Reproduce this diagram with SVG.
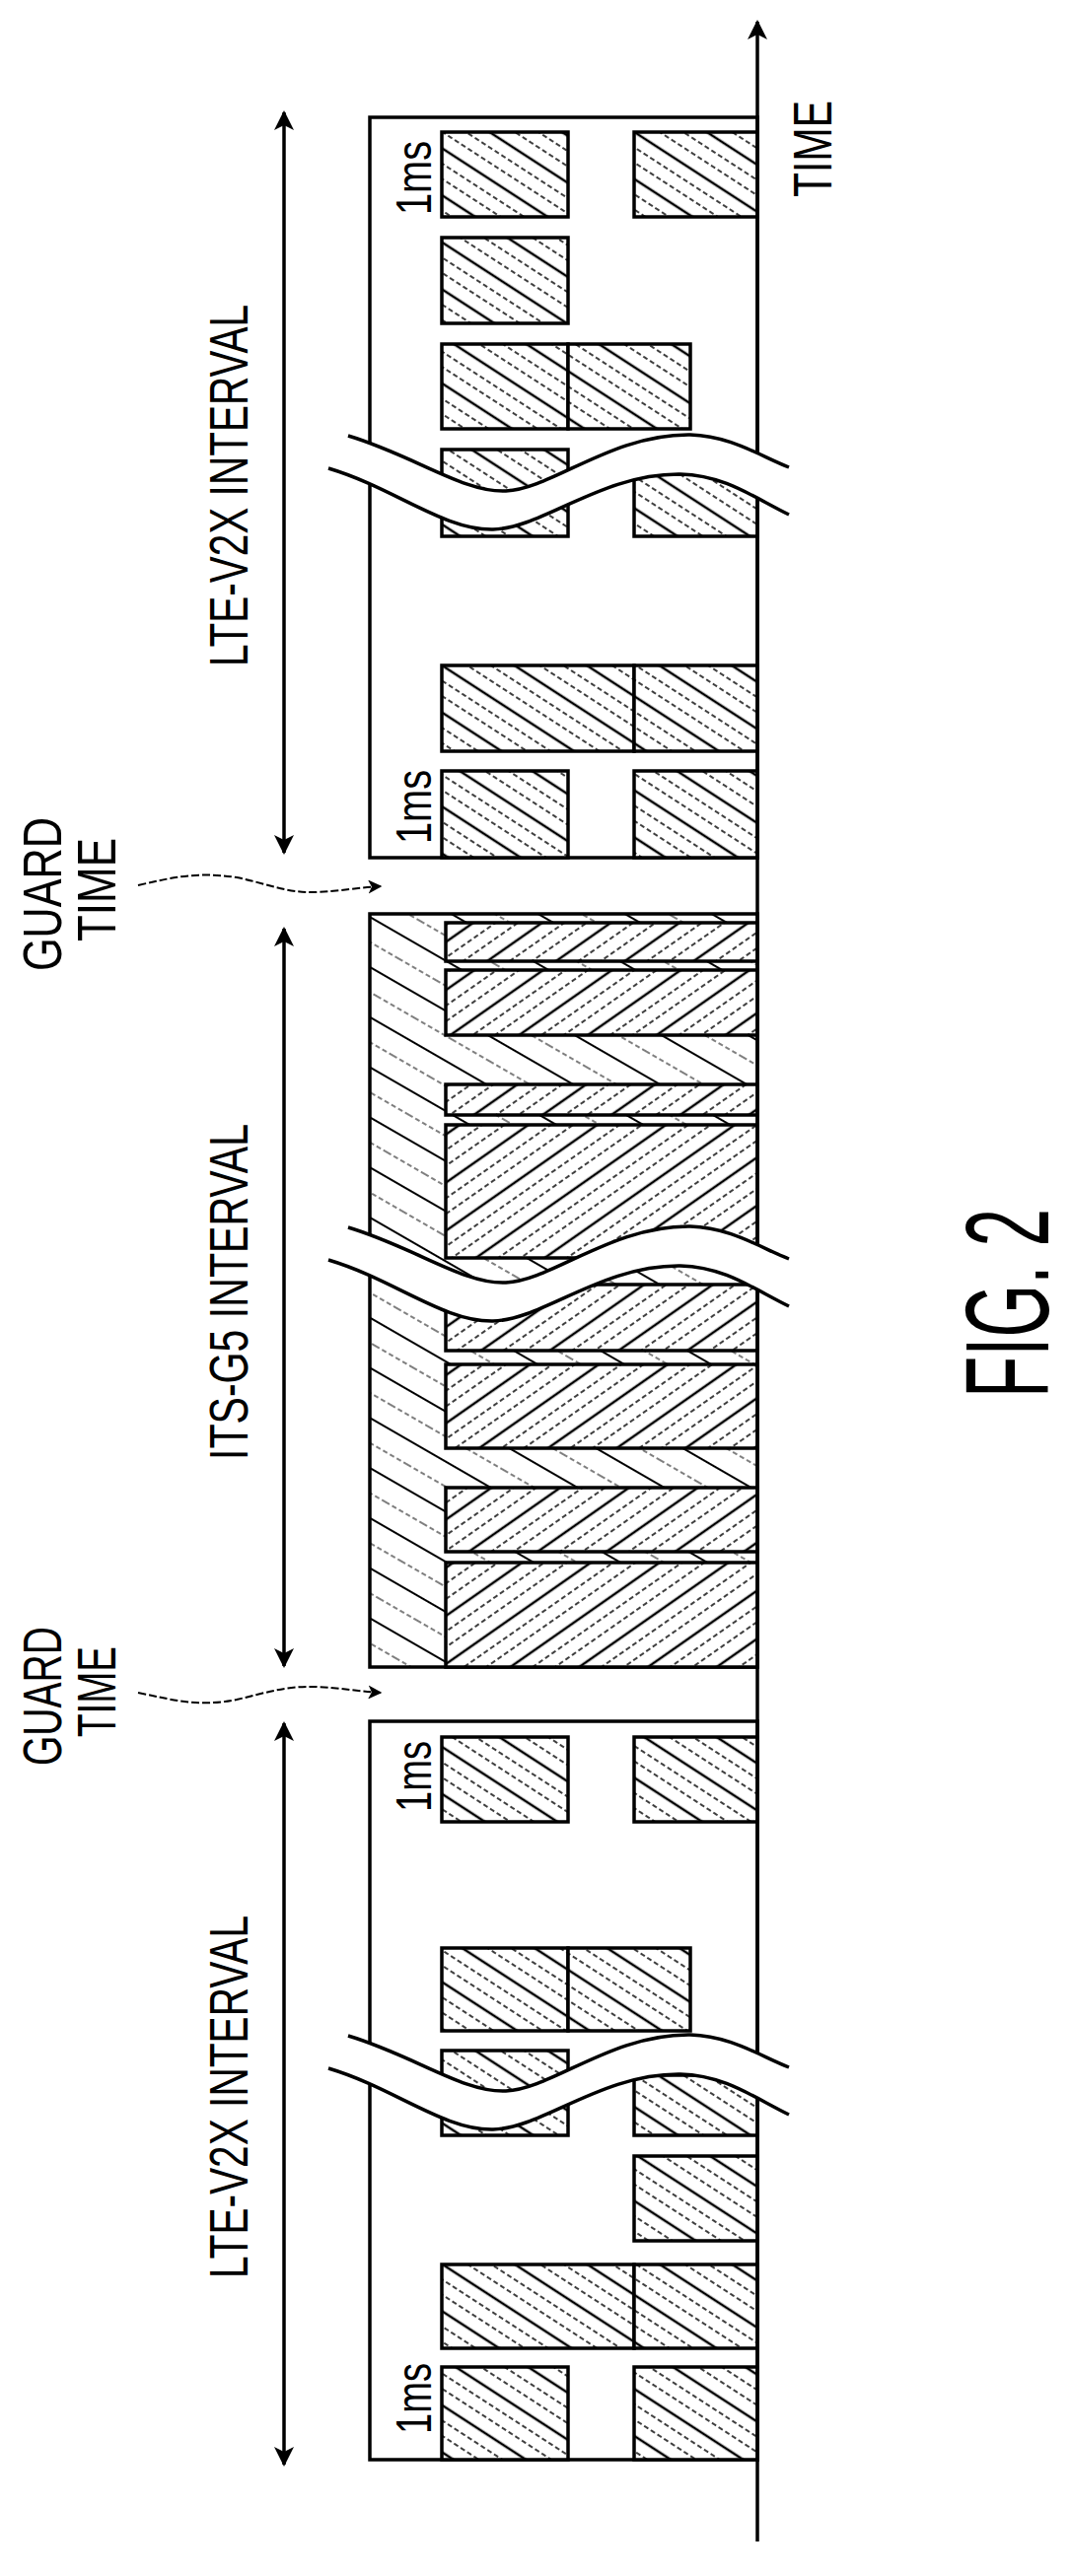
<svg xmlns="http://www.w3.org/2000/svg" width="1086" height="2613" viewBox="0 0 1086 2613">
<style>
.ln{stroke:#000;stroke-width:3.5;fill:none}
.bx{stroke:#000;stroke-width:3.5}
.txt{font-family:"Liberation Sans",Arial,sans-serif;fill:#000}
.thin{stroke:#000;stroke-width:2;fill:none;stroke-dasharray:8 3}
</style>
<defs>
<pattern id="lte" width="40" height="40" patternUnits="userSpaceOnUse" patternTransform="rotate(33)">
<rect width="40" height="40" fill="#fff"/>
<line x1="0" y1="2" x2="40" y2="2" stroke="#000" stroke-width="2.5"/>
<line x1="0" y1="15" x2="40" y2="15" stroke="#000" stroke-width="1.3" stroke-dasharray="5 3"/>
<line x1="0" y1="28" x2="40" y2="28" stroke="#000" stroke-width="1.3" stroke-dasharray="5 3"/>
</pattern>
<pattern id="itsb" width="40" height="40" patternUnits="userSpaceOnUse" patternTransform="rotate(-35)">
<rect width="40" height="40" fill="#fff"/>
<line x1="0" y1="2" x2="40" y2="2" stroke="#000" stroke-width="2.5"/>
<line x1="0" y1="15" x2="40" y2="15" stroke="#000" stroke-width="1.3" stroke-dasharray="5 3"/>
<line x1="0" y1="28" x2="40" y2="28" stroke="#000" stroke-width="1.3" stroke-dasharray="5 3"/>
</pattern>
<pattern id="itsbg" width="44" height="44" patternUnits="userSpaceOnUse" patternTransform="rotate(30)">
<rect width="44" height="44" fill="#fff"/>
<line x1="0" y1="2" x2="44" y2="2" stroke="#000" stroke-width="2.2"/>
<line x1="0" y1="24" x2="44" y2="24" stroke="#000" stroke-width="1.2" stroke-dasharray="5 3"/>
</pattern>
<marker id="ah" viewBox="0 0 20 20" refX="18" refY="10" markerWidth="20" markerHeight="20" markerUnits="userSpaceOnUse" orient="auto-start-reverse">
<path d="M0,0 L20,10 L0,20 L5,10 Z" fill="#000"/>
</marker>
<marker id="ahs" viewBox="0 0 20 20" refX="18" refY="10" markerWidth="14" markerHeight="14" markerUnits="userSpaceOnUse" orient="auto">
<path d="M0,0 L20,10 L0,20 L5,10 Z" fill="#000"/>
</marker>
<g id="brk">
<path d="M353,442 C420,462 470,500 513,498 C560,496 620,440 700,441 C740,442 770,462 800,474 L800,522 C765,505 735,482 690,481 C610,480 550,536 500,537 C450,538 400,495 333,475 Z" fill="#fff" stroke="none"/>
<path d="M353,442 C420,462 470,500 513,498 C560,496 620,440 700,441 C740,442 770,462 800,474" class="ln" stroke-width="3"/>
<path d="M333,475 C400,495 450,538 500,537 C550,536 610,480 690,481 C735,482 765,505 800,522" class="ln" stroke-width="3"/>
</g>
</defs>
<rect width="1086" height="2613" fill="#fff"/>

<g id="lte1">
<rect x="375" y="119" width="393" height="751" fill="#fff" class="bx"/>
<g fill="url(#lte)" class="bx">
<rect x="448" y="134" width="128" height="86"/><rect x="643" y="134" width="125" height="86"/>
<rect x="448" y="241" width="128" height="87"/>
<rect x="448" y="349" width="128" height="86"/><rect x="576" y="349" width="124" height="86"/>
<rect x="448" y="456" width="128" height="88"/><rect x="643" y="481" width="125" height="63"/>
<rect x="448" y="675" width="195" height="87"/><rect x="643" y="675" width="125" height="87"/>
<rect x="448" y="782" width="128" height="88"/><rect x="643" y="782" width="125" height="88"/>
</g>
<text class="txt" font-size="50" transform="translate(437,218) rotate(-90)" textLength="75" lengthAdjust="spacingAndGlyphs">1ms</text>
<text class="txt" font-size="50" transform="translate(437,856) rotate(-90)" textLength="75" lengthAdjust="spacingAndGlyphs">1ms</text>
</g>

<g id="its">
<rect x="375" y="927" width="393" height="764" fill="url(#itsbg)" class="bx"/>
<g fill="url(#itsb)" class="bx">
<rect x="452" y="936" width="316" height="39"/>
<rect x="452" y="984" width="316" height="66"/>
<rect x="452" y="1100" width="316" height="31"/>
<rect x="452" y="1141" width="316" height="135"/>
<rect x="452" y="1303" width="316" height="67"/>
<rect x="452" y="1384" width="316" height="85"/>
<rect x="452" y="1509" width="316" height="65"/>
<rect x="452" y="1585" width="316" height="106"/>
</g>
</g>

<g id="lte2">
<rect x="375" y="1746" width="393" height="749" fill="#fff" class="bx"/>
<g fill="url(#lte)" class="bx">
<rect x="448" y="1762" width="128" height="86"/><rect x="643" y="1762" width="125" height="86"/>
<rect x="448" y="1976" width="128" height="84"/><rect x="576" y="1976" width="124" height="84"/>
<rect x="448" y="2080" width="128" height="86"/><rect x="643" y="2105" width="125" height="61"/>
<rect x="643" y="2187" width="125" height="86"/>
<rect x="448" y="2297" width="195" height="85"/><rect x="643" y="2297" width="125" height="85"/>
<rect x="448" y="2401" width="128" height="94"/><rect x="643" y="2401" width="125" height="94"/>
</g>
<text class="txt" font-size="50" transform="translate(437,1838) rotate(-90)" textLength="72" lengthAdjust="spacingAndGlyphs">1ms</text>
<text class="txt" font-size="50" transform="translate(437,2469) rotate(-90)" textLength="72" lengthAdjust="spacingAndGlyphs">1ms</text>
</g>

<g id="axis">
<line x1="768" y1="2578" x2="768" y2="22" class="ln" marker-end="url(#ah)"/>
<text class="txt" font-size="56" transform="translate(843,200) rotate(-90)" textLength="98" lengthAdjust="spacingAndGlyphs">TIME</text>
</g>

<g id="breaks">
<use href="#brk"/>
<use href="#brk" transform="translate(0,803)"/>
<use href="#brk" transform="translate(0,1623)"/>
</g>

<g id="connectors">
<line x1="288" y1="114" x2="288" y2="865" class="ln" marker-start="url(#ah)" marker-end="url(#ah)"/>
<line x1="288" y1="942" x2="288" y2="1690" class="ln" marker-start="url(#ah)" marker-end="url(#ah)"/>
<line x1="288" y1="1748" x2="288" y2="2500" class="ln" marker-start="url(#ah)" marker-end="url(#ah)"/>
<path d="M140,898 C175,890 200,884 240,890 C270,896 290,906 320,905 C345,904 365,900 386,899" class="thin" marker-end="url(#ahs)"/>
<path d="M140,1717 C175,1724 200,1732 240,1724 C270,1717 290,1710 320,1711 C345,1712 365,1716 386,1717" class="thin" marker-end="url(#ahs)"/>
</g>

<g id="labels">
<text class="txt" font-size="56" transform="translate(251,676) rotate(-90)" textLength="367" lengthAdjust="spacingAndGlyphs">LTE-V2X INTERVAL</text>
<text class="txt" font-size="56" transform="translate(251,1481) rotate(-90)" textLength="341" lengthAdjust="spacingAndGlyphs">ITS-G5 INTERVAL</text>
<text class="txt" font-size="56" transform="translate(251,2311) rotate(-90)" textLength="368" lengthAdjust="spacingAndGlyphs">LTE-V2X INTERVAL</text>
<text class="txt" font-size="56" transform="translate(62,985) rotate(-90)" textLength="156" lengthAdjust="spacingAndGlyphs">GUARD</text>
<text class="txt" font-size="56" transform="translate(117,955) rotate(-90)" textLength="105" lengthAdjust="spacingAndGlyphs">TIME</text>
<text class="txt" font-size="56" transform="translate(62,1791) rotate(-90)" textLength="141" lengthAdjust="spacingAndGlyphs">GUARD</text>
<text class="txt" font-size="56" transform="translate(117,1762) rotate(-90)" textLength="92" lengthAdjust="spacingAndGlyphs">TIME</text>
<text class="txt" font-size="120" transform="translate(1063,1418) rotate(-90)" textLength="192" lengthAdjust="spacingAndGlyphs">FIG. 2</text>
</g>
</svg>
